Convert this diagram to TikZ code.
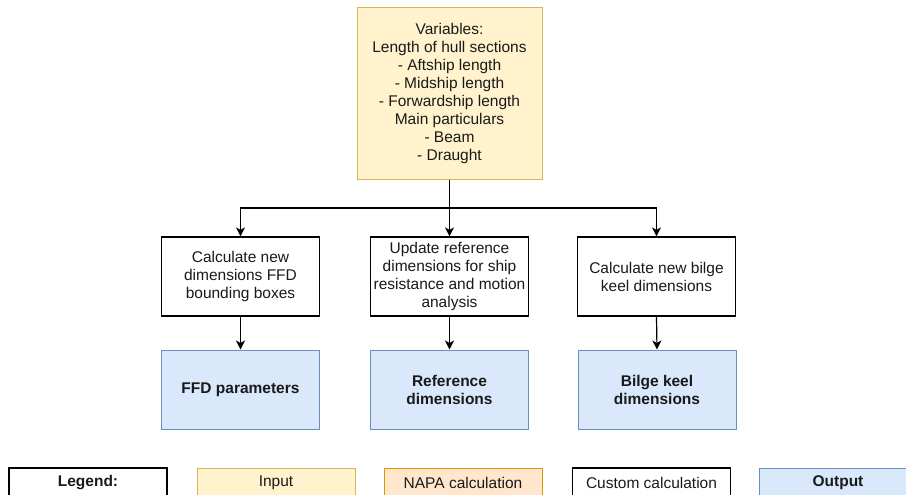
\documentclass[tikz,border=0pt]{standalone}
\usepackage{fontspec}
\setmainfont{Liberation Sans}
\usetikzlibrary{arrows.meta}
\definecolor{inputfill}{HTML}{FFF2CC}
\definecolor{inputline}{HTML}{D6B656}
\definecolor{outfill}{HTML}{DAE8FC}
\definecolor{outline}{HTML}{6C8EBF}
\definecolor{napafill}{HTML}{FFE6CC}
\definecolor{napaline}{HTML}{D79B00}
\definecolor{txt}{HTML}{1A1A1A}
\begin{document}
\begin{tikzpicture}[x=1pt,y=-1pt,
  every node/.style={font=\fontsize{15.5}{18}\selectfont, text=txt, align=center, inner sep=0pt},
  calcbox/.style={draw=black, line width=1.2pt, fill=white, minimum width=158pt, minimum height=79pt},
  inbox/.style={draw=inputline, line width=1pt, fill=inputfill},
  outbox/.style={draw=outline, line width=1pt, fill=outfill, minimum width=158pt, minimum height=79pt, font=\fontsize{15.5}{18}\selectfont\bfseries},
  napabox/.style={draw=napaline, line width=1pt, fill=napafill},
  legbox/.style={minimum width=158pt, minimum height=30pt},
  arr/.style={-{Stealth[length=9pt,width=9pt,inset=2.5pt]}, line width=1.2pt, draw=black}
]
\useasboundingbox (0,0) rectangle (906,495);

% input variables
\node[inbox, minimum width=185pt, minimum height=172pt] (vars) at (449.5,93.5)
  {Variables:\\Length of hull sections\\- Aftship length\\- Midship length\\- Forwardship length\\Main particulars\\- Beam\\- Draught};

% calculation steps
\node[calcbox] (ffd) at (240.5,276.5) {Calculate new\\dimensions FFD\\bounding boxes};
\node[calcbox] (ref) at (449.5,276.5) {Update reference\\dimensions for ship\\resistance and motion\\analysis};
\node[calcbox] (bk) at (656.5,276.5) {Calculate new bilge\\keel dimensions};

% outputs
\node[outbox] (ffdout) at (240.5,389.5) {FFD parameters};
\node[outbox] (refout) at (449.5,389.5) {Reference\\dimensions};
\node[outbox] (bkout) at (657,389.5) {Bilge keel\\dimensions};

% connectors
\coordinate (split) at (449.5,208);
\draw[arr] (vars.south) -- (ref.north);
\draw[arr] (split) -| (ffd.north);
\draw[arr] (split) -| (bk.north);
\draw[arr] (ffd.south) -- (ffdout.north);
\draw[arr] (ref.south) -- (refout.north);
\draw[arr] (bk.south) -- (bkout.north);

% legend
\node[legbox, draw=black, line width=1.2pt, font=\fontsize{15.5}{18}\selectfont\bfseries] (leg) at (88,483) {Legend:};
\node[legbox, inbox] (legin) at (276,483) {Input};
\node[legbox, napabox] (legnapa) at (463,483) {NAPA calculation};
\node[legbox, draw=black, line width=1.2pt] (legcalc) at (651.5,483) {Custom calculation};
\node[legbox, outbox, minimum height=30pt] (legout) at (838,483) {Output};
\end{tikzpicture}
\end{document}
